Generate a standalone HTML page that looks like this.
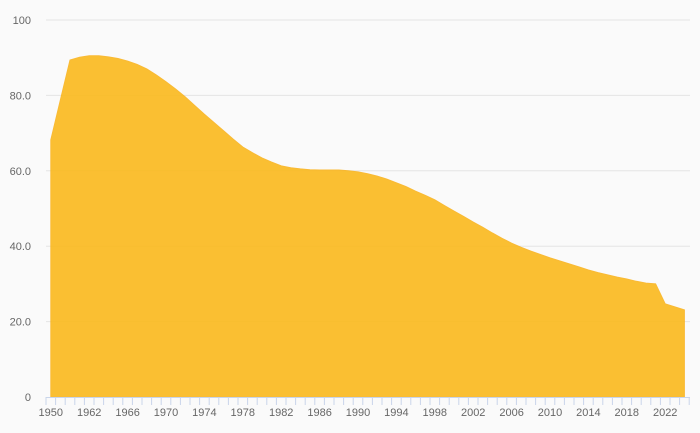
<!DOCTYPE html>
<html><head><meta charset="utf-8"><style>
html,body{margin:0;padding:0;background:#fafafa;}
svg{display:block;font-family:"Liberation Sans",sans-serif;}
</style></head><body>
<svg id="chart" width="700" height="433" viewBox="0 0 700 433"></svg>
<script>
const categories = ["1950","1955","1960","1961","1962","1963","1964","1965","1966","1967","1968","1969","1970","1971","1972","1973","1974","1975","1976","1977","1978","1979","1980","1981","1982","1983","1984","1985","1986","1987","1988","1989","1990","1991","1992","1993","1994","1995","1996","1997","1998","1999","2000","2001","2002","2003","2004","2005","2006","2007","2008","2009","2010","2011","2012","2013","2014","2015","2016","2017","2018","2019","2020","2021","2022","2023","2024"];
const values = [68.2,78.8,89.4,90.1,90.5,90.5,90.2,89.8,89.1,88.2,87,85.4,83.6,81.7,79.6,77.3,75,72.8,70.6,68.4,66.3,64.8,63.4,62.3,61.3,60.8,60.5,60.3,60.2,60.2,60.2,60.0,59.7,59.2,58.6,57.8,56.8,55.8,54.6,53.5,52.3,50.8,49.3,47.9,46.4,45.0,43.5,42.1,40.8,39.7,38.7,37.8,36.9,36.1,35.3,34.5,33.7,33.0,32.4,31.8,31.3,30.7,30.2,30.0,24.7,23.9,23.1];
const yTicks = [0,20,40,60,80,100];
const yTickLabels = ["0","20.0","40.0","60.0","80.0","100"];

const NS="http://www.w3.org/2000/svg";
const svg=document.getElementById('chart');
const X0=46, X1=689.2, Y0=397, Y1=20;
const step=(X1-X0)/categories.length;
const xPos=i=>X0+step*(i+0.5);
const yPos=v=>Y0-(v/100)*(Y0-Y1);
function mk(t,a){const e=document.createElementNS(NS,t);for(const k in a)e.setAttribute(k,a[k]);svg.appendChild(e);return e;}

yTicks.forEach((t,i)=>{
  if(t>0){const g=mk('line',{x1:X0,x2:690,y1:yPos(t),y2:yPos(t),stroke:'#e4e4e4','stroke-width':1});
  
  }
  const l=mk('text',{x:31,y:yPos(t)+4,'text-anchor':'end','font-size':11,fill:'#666'});
  l.textContent=yTickLabels[i];
  
  
});

let d='M'+xPos(0)+','+Y0;
values.forEach((v,i)=>{d+=' L'+xPos(i).toFixed(1)+','+yPos(v).toFixed(1);});
d+=' L'+xPos(values.length-1).toFixed(1)+','+Y0+' Z';
const area=mk('path',{d:d,fill:'#fbb817',opacity:0.88,stroke:'#f9b21a','stroke-width':1});



const ax=mk('line',{x1:X0,x2:690,y1:Y0+0.5,y2:Y0+0.5,stroke:'#c9d5ea','stroke-width':1});


for(let i=0;i<=categories.length;i++){
  const x=X0+step*i;
  const tk=mk('line',{x1:x,x2:x,y1:Y0,y2:Y0+8,stroke:'#c9d5ea','stroke-width':1});
  
  
}
categories.forEach((c,i)=>{
  if(i%4!==0)return;
  const l=mk('text',{x:xPos(i),y:416,'text-anchor':'middle','font-size':11,fill:'#666'});
  l.textContent=c;
  
  
});
</script>
</body></html>
